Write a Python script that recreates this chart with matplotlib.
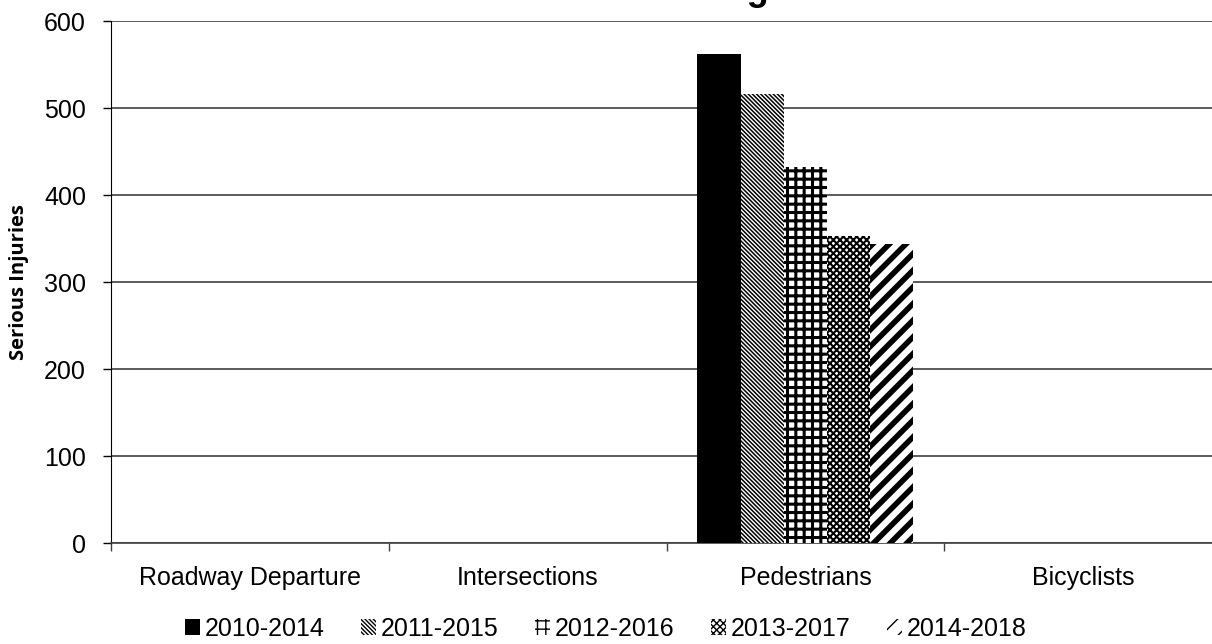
import matplotlib
matplotlib.use('Agg')
import matplotlib.pyplot as plt
import numpy as np

# categories and 5-year rolling values (only Pedestrians has data)
categorias = ['Roadway Departure', 'Intersections', 'Pedestrians', 'Bicyclists']
periodos = ['2010-2014', '2011-2015', '2012-2016', '2013-2017', '2014-2018']
valores = [
    [0, 0, 562, 0],
    [0, 0, 517, 0],
    [0, 0, 432, 0],
    [0, 0, 353, 0],
    [0, 0, 344, 0],
]
hachuras = [None, '\\' * 8, '++', 'xxxxx', '//']
largura_hachura = [1.0, 1.1, 2.2, 1.5, 4.0]
yticks = [0, 100, 200, 300, 400, 500, 600]

plt.rcParams['font.family'] = ['Liberation Sans', 'DejaVu Sans']

fig = plt.figure(figsize=(12.12, 6.44), dpi=100)
ax = fig.add_axes([111 / 1212, 1 - 543.3 / 644, (1222 - 111) / 1212, 522 / 644])

x = np.arange(len(categorias))
n = len(periodos)
larg = 0.778 / n
for i in range(n):
    with plt.rc_context({'hatch.linewidth': largura_hachura[i], 'hatch.color': 'black'}):
        ax.bar(x + (i - (n - 1) / 2) * larg, valores[i], larg,
               color='black' if hachuras[i] is None else 'white',
               edgecolor='black', linewidth=0,
               hatch=hachuras[i], label=periodos[i], zorder=3)

ax.set_xlim(-0.5, len(categorias) - 0.5)
ax.set_ylim(0, 600)
ax.set_yticks(yticks)
ax.yaxis.grid(True, color='#404040', linewidth=1.2, zorder=0)
ax.set_axisbelow(True)

ax.set_xticks(x)
ax.set_xticklabels(categorias, fontsize=18)
ax.tick_params(axis='x', which='major', length=0, pad=16)
ax.set_xticks(np.arange(-0.5, len(categorias), 1), minor=True)
ax.tick_params(axis='x', which='minor', length=6, width=1, color='#404040', direction='out')
ax.tick_params(axis='y', labelsize=18, length=6, width=1, pad=12)

for s in ['top', 'right']:
    ax.spines[s].set_visible(False)
ax.spines['left'].set_color('black')
ax.spines['bottom'].set_color('#404040')
ax.spines['bottom'].set_linewidth(1.2)

ax.set_ylabel('Serious Injuries', fontsize=14.5, fontweight='bold',
              family=['Open Sans', 'DejaVu Sans'])
ax.yaxis.set_label_coords((29 - 111) / 1111, 0.5)

fig.text(769 / 1212, 0.9995, 'Trending', ha='right', va='baseline',
         fontsize=26, fontweight='bold')

fig.legend(loc='center', bbox_to_anchor=(0.5, 1 - 629 / 644), ncol=5,
           frameon=False, fontsize=18, handlelength=0.6, handleheight=0.6,
           handletextpad=0.2, columnspacing=1.45, borderpad=0)

fig.savefig('out.png', dpi=100)
